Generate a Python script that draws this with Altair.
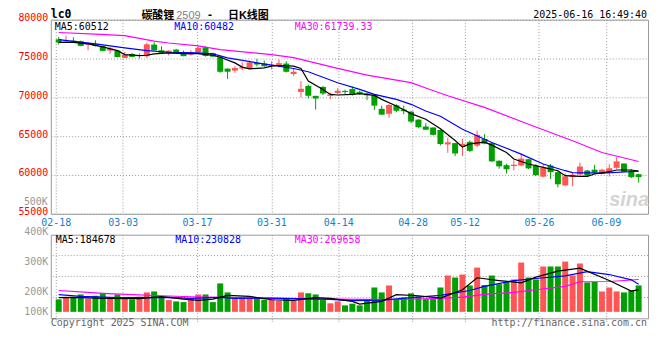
import altair as alt
import pandas as pd

# ---------------- data ----------------
OPEN = [77470, 77180, 77300, 77220, 76790, 76880, 76580, 76020, 76020, 75080,
        75590, 75340, 75300, 76790, 76060, 75720, 76150, 75680, 75510, 75810,
        76450, 75680, 75170, 73700, 73440, 73720, 73650, 74440, 74350, 74100,
        74180, 74350, 73000, 70700, 71470, 70190, 71340, 70190, 70570, 70830,
        71060, 70700, 70500, 70320, 68520, 67880, 68970, 68420, 68160, 67130,
        66240, 66110, 65800, 63930, 64100, 63710, 64270, 63780, 64630, 64100,
        61830, 61260, 61150, 61220, 62030, 61200, 59780, 61210, 60360, 58650,
        59720, 60060, 60570, 60680, 60150, 60400, 60920, 61470, 60570, 60100]
HIGH = [77780, 77950, 77730, 77300, 77090, 77350, 76660, 76490, 76110, 75850,
        75720, 75680, 77050, 77090, 76580, 76060, 76240, 76020, 76060, 76620,
        76580, 75770, 75300, 73720, 74010, 74530, 74740, 74950, 74740, 74650,
        74870, 74650, 73710, 72110, 71620, 70190, 71470, 70620, 71170, 70980,
        71400, 70850, 70600, 70380, 68930, 69120, 69100, 68930, 68250, 67180,
        66660, 66150, 65850, 64800, 64150, 64660, 64440, 65700, 65250, 64150,
        61880, 61450, 61880, 62750, 62090, 61400, 61400, 61410, 60450, 60210,
        60340, 61600, 60660, 61320, 60800, 61400, 62280, 61520, 60770, 60160]
LOW = [76790, 77000, 77000, 76580, 76060, 76530, 75940, 75590, 75170, 75080,
       75170, 74950, 75080, 76020, 75590, 75380, 75640, 75300, 75380, 75720,
       75250, 75210, 73160, 72370, 73160, 73500, 73590, 73970, 73930, 73590,
       73880, 73200, 72770, 69980, 69850, 68420, 70300, 69760, 70400, 70430,
       70210, 70340, 69660, 68370, 67730, 67370, 68080, 67820, 66660, 66030,
       65800, 65080, 63800, 62860, 62430, 62430, 62950, 63590, 63950, 61660,
       60810, 60190, 60600, 61110, 60770, 59880, 59700, 59480, 58400, 58550,
       58540, 59990, 59800, 60150, 60080, 59790, 60800, 60320, 59620, 59040]
CLOSE = [77050, 77300, 77170, 76620, 76960, 76620, 75980, 76280, 75210, 75510,
         75210, 75420, 76830, 76060, 75720, 76020, 75680, 75300, 75810, 76360,
         75340, 75250, 73290, 73300, 73780, 73880, 74500, 74230, 74010, 74230,
         74400, 73290, 73290, 71100, 70190, 69850, 70490, 70380, 70850, 70700,
         70380, 70450, 70270, 68930, 67770, 69010, 68270, 68220, 66880, 66150,
         65830, 65170, 63990, 64210, 62770, 64010, 63100, 65170, 64030, 61750,
         61110, 60740, 61320, 62110, 60850, 59980, 60930, 60360, 58800, 59830,
         60040, 61090, 59930, 60280, 60680, 60870, 61750, 60400, 59720, 59720]
VOLUME = [104000, 118000, 118000, 145000, 110000, 134000, 154000, 118000, 145000, 115000,
          104000, 126000, 162000, 170000, 115000, 98000, 87000, 81000, 115000, 145000,
          145000, 81000, 237000, 162000, 110000, 123000, 118000, 115000, 101000, 104000,
          93000, 106000, 95000, 162000, 154000, 145000, 98000, 71000, 87000, 54000,
          68000, 54000, 93000, 203000, 162000, 220000, 104000, 120000, 154000, 129000,
          106000, 106000, 203000, 303000, 286000, 311000, 220000, 369000, 224000, 303000,
          231000, 251000, 270000, 411000, 286000, 270000, 378000, 378000, 378000, 419000,
          303000, 403000, 245000, 249000, 170000, 203000, 170000, 162000, 178000, 220000]

LABEL_DAYS = [0, 9, 19, 29, 38, 48, 55, 65, 74]
LABEL_TEXT = ["02-18", "03-03", "03-17", "03-31", "04-14", "04-28", "05-12", "05-26", "06-09"]

PRICE_TICKS = [55000, 60000, 65000, 70000, 75000, 80000]

MA5_DAY = [0, 2, 4, 6, 8, 9, 11, 12, 13, 15, 17, 19, 20, 21, 22, 24, 25, 26, 28, 29,
           30, 32, 33, 34, 36, 37, 38, 40, 41, 43, 44, 46, 48, 50, 52, 54, 55, 56, 58, 59,
           61, 62, 64, 66, 68, 69, 71, 72, 73, 75, 76, 78, 79]
MA5_VAL = [77090, 77090, 76880, 76490, 76020, 75510, 75380, 75420, 75590, 75720,
           75640, 75640, 75510, 75420, 75170, 74440, 73890, 73670, 73800, 74010,
           74100, 74010, 73710, 72090, 71020, 70380, 70300, 70380, 70470, 70250,
           69740, 68890, 67900, 67180, 65940, 64440, 63590, 64010, 64230, 63840,
           62900, 62050, 61410, 60980, 60550, 59910, 59830, 59830, 60130, 60420,
           60640, 60640, 60512]
MA10_DAY = [0, 5, 9, 12, 15, 19, 21, 23, 27, 32, 34, 38, 41, 43, 46, 48, 50, 52, 55,
            59, 63, 66, 69, 70, 74, 79]
MA10_VAL = [77430, 76880, 76360, 76020, 75810, 75720, 75590, 75080, 74440, 73710,
            73290, 71880, 71020, 70380, 69740, 69100, 68240, 67560, 65890, 64190,
            62690, 61410, 60550, 60300, 60250, 60482]
MA30_DAY = [0, 5, 9, 13, 15, 19, 22, 29, 32, 38, 42, 48, 50, 53, 58, 64, 70, 74, 79]
MA30_VAL = [78350, 78150, 77950, 77250, 77000, 76620, 76150, 75510, 75120, 73720,
            72850, 71900, 71200, 70210, 68710, 66540, 64400, 62900, 61739]

VMA5_DAY = [0, 2, 6, 11, 14, 17, 19, 21, 23, 26, 29, 32, 35, 37, 40, 41, 44, 46, 49, 52,
            55, 57, 60, 63, 65, 68, 71, 75, 78, 79]
VMA5_VAL = [118000, 120000, 112000, 110000, 126000, 106000, 95000, 106000, 137000, 129000,
            101000, 95000, 118000, 112000, 87000, 65000, 87000, 143000, 134000, 115000,
            184000, 284000, 261000, 242000, 289000, 339000, 364000, 261000, 173000, 184678]
VMA10_DAY = [0, 3, 8, 15, 18, 22, 24, 29, 37, 40, 44, 48, 52, 56, 58, 62, 65, 69, 72, 75, 78, 79]
VMA10_VAL = [143000, 129000, 118000, 120000, 112000, 120000, 112000, 115000, 104000, 93000,
             98000, 118000, 137000, 178000, 212000, 261000, 278000, 300000, 336000, 311000,
             267000, 230828]
VMA30_DAY = [0, 4, 6, 10, 14, 18, 24, 29, 37, 45, 52, 55, 58, 62, 65, 69, 71, 75, 79]
VMA30_VAL = [178000, 162000, 154000, 143000, 134000, 126000, 118000, 112000, 106000, 101000,
             112000, 123000, 145000, 162000, 184000, 212000, 251000, 253000, 269658]

VOL_TICK_TEXT = ["100K", "200K", "300K", "400K"]
VOL_TICK_AT = [-21000, 145000, 394000, 643000]
VOL_GRID = [120000, 295000, 469000]
VOL_OVERFLOW_LABEL = "500K"

# ---------------- styling ----------------
RED = "#ff5555"
GREEN = "#00a000"
MONO = "DejaVu Sans Mono"
CJK = "Liberation Sans, Noto Sans CJK SC"
GRID = "#9a9a9a"

n = len(OPEN)
df = pd.DataFrame({"i": list(range(n)), "open": OPEN, "high": HIGH, "low": LOW,
                   "close": CLOSE, "vol": VOLUME})
df["dir"] = ["up" if c >= o else "down" for o, c in zip(OPEN, CLOSE)]

X_SCALE = alt.Scale(domain=[-0.4, n - 0.4], nice=False, zero=False)
P_SCALE = alt.Scale(domain=[55000, 80000], nice=False, zero=False)
V_SCALE = alt.Scale(domain=[-53950, 643250], nice=False, zero=False)
COLOR = alt.Color("dir:N", scale=alt.Scale(domain=["up", "down"], range=[RED, GREEN]), legend=None)

# Sina spaces its date grid over (n-1) slots while candles use n slots
XPOS = [d * n / (n - 1) - 0.4 for d in LABEL_DAYS]
x_expr = " : ".join(f"abs(datum.value - {p}) < 0.01 ? '{t}'" for p, t in zip(XPOS, LABEL_TEXT)) + " : ''"
v_expr = " : ".join(f"datum.value == {v} ? '{t}'" for v, t in zip(VOL_TICK_AT, VOL_TICK_TEXT)) + " : ''"

x_axis_top = alt.Axis(values=XPOS, labelExpr=x_expr, labelColor="#0f7fd0", labelFont=MONO,
                      labelFontSize=10, labelPadding=4, ticks=False, tickSize=0, domain=False,
                      grid=True, gridColor=GRID, gridDash=[1, 2], labelFlush=False,
                      labelOverlap=False, title=None)
x_axis_bot = alt.Axis(values=XPOS, labels=False, ticks=True, tickSize=3, tickColor=GRID,
                      tickDash=[1, 1], domain=False, grid=True, gridColor=GRID, gridDash=[1, 2],
                      title=None)
p_axis = alt.Axis(values=PRICE_TICKS, format="d", labelColor="#ff0000", labelFont=MONO,
                  labelFontSize=10, labelPadding=3, labelBaseline="alphabetic", labelOffset=1,
                  ticks=False, tickSize=0, domain=False, grid=True, gridColor=GRID,
                  gridDash=[1, 2], labelFlush=False, labelOverlap=False, title=None)
v_axis = alt.Axis(values=VOL_TICK_AT, labelExpr=v_expr, labelColor="#999999", labelFont=MONO,
                  labelFontSize=10, labelPadding=3, labelBaseline="alphabetic", ticks=False,
                  tickSize=0, domain=False, grid=False, labelFlush=False, labelOverlap=False,
                  title=None)

X_TOP = alt.X("i:Q", scale=X_SCALE, axis=x_axis_top)
X_BOT = alt.X("i:Q", scale=X_SCALE, axis=x_axis_bot)


def txt(s, x, y, color="#000000", size=10, font=MONO, align="left", weight="normal", style="normal"):
    return alt.Chart(pd.DataFrame({"t": [s]})).mark_text(
        align=align, baseline="alphabetic", color=color, fontSize=size, font=font,
        fontWeight=weight, fontStyle=style
    ).encode(x=alt.value(x), y=alt.value(y), text="t:N")


def line(days, vals, color, xenc, yscale, yaxis):
    d = pd.DataFrame({"i": days, "v": vals})
    return alt.Chart(d).mark_line(color=color, strokeWidth=1.2).encode(
        x=xenc, y=alt.Y("v:Q", scale=yscale, axis=yaxis))


# ---------------- price panel ----------------
wick = alt.Chart(df).mark_rule(strokeWidth=1).encode(
    x=X_TOP, y=alt.Y("low:Q", scale=P_SCALE, axis=p_axis), y2="high:Q", color=COLOR)
body = alt.Chart(df).mark_bar(size=6).encode(
    x=X_TOP, y=alt.Y("open:Q", scale=P_SCALE, axis=p_axis), y2="close:Q", color=COLOR)

top = alt.layer(
    txt("sina", 601, 187, color="#d4d4d4", size=20, font="Liberation Sans", align="right",
        weight="bold", style="italic"),
    wick, body,
    line(MA30_DAY, MA30_VAL, "#ff00ff", X_TOP, P_SCALE, p_axis),
    line(MA10_DAY, MA10_VAL, "#0000ff", X_TOP, P_SCALE, p_axis),
    line(MA5_DAY, MA5_VAL, "#000000", X_TOP, P_SCALE, p_axis),
    txt(VOL_OVERFLOW_LABEL, -3, 186, color="#999999", align="right"),
    txt("lc0", 0, -1.5, size=11.5, weight="bold"),
    txt("碳酸锂", 91, -0.5, size=11, font=CJK, weight="bold"),
    txt("2509", 126, -1, color="#808080", size=11, font="Liberation Sans"),
    txt("-", 157, -2, size=10, weight="bold"),
    txt("日K线图", 178, -0.5, size=11, font=CJK, weight="bold"),
    txt("2025-06-16 16:49:40", 599, -1.5, align="right"),
    txt("MA5:60512", 4, 10.5),
    txt("MA10:60482", 124, 10.5, color="#0000ff"),
    txt("MA30:61739.33", 245, 10.5, color="#ff00ff"),
).properties(width=600, height=195)

# ---------------- volume panel ----------------
vgrid = alt.Chart(pd.DataFrame({"g": VOL_GRID})).mark_rule(
    color=GRID, strokeDash=[1, 2], strokeWidth=1).encode(
    y=alt.Y("g:Q", scale=V_SCALE, axis=v_axis))
vbar = alt.Chart(df).mark_bar(size=6).encode(
    x=X_BOT, y=alt.Y("vol:Q", scale=V_SCALE, axis=v_axis), y2=alt.datum(0), color=COLOR)

bottom = alt.layer(
    vgrid, vbar,
    line(VMA30_DAY, VMA30_VAL, "#ff00ff", X_BOT, V_SCALE, v_axis),
    line(VMA10_DAY, VMA10_VAL, "#0000ff", X_BOT, V_SCALE, v_axis),
    line(VMA5_DAY, VMA5_VAL, "#000000", X_BOT, V_SCALE, v_axis),
    txt("MA5:184678", 5, 8),
    txt("MA10:230828", 125, 8, color="#0000ff"),
    txt("MA30:269658", 245, 8, color="#ff00ff"),
    txt("Copyright 2025 SINA.COM", 0, 92, color="#666666"),
    txt("http://finance.sina.com.cn", 599, 92, color="#666666", align="right"),
).properties(width=600, height=84)

chart = alt.vconcat(top, bottom, spacing=21, bounds="flush").properties(
    padding={"left": 9, "top": 0, "right": 2, "bottom": 0}
).configure_view(stroke="#999999", strokeWidth=1)

chart.save("out.html", embed_options={"renderer": "svg", "actions": False})
